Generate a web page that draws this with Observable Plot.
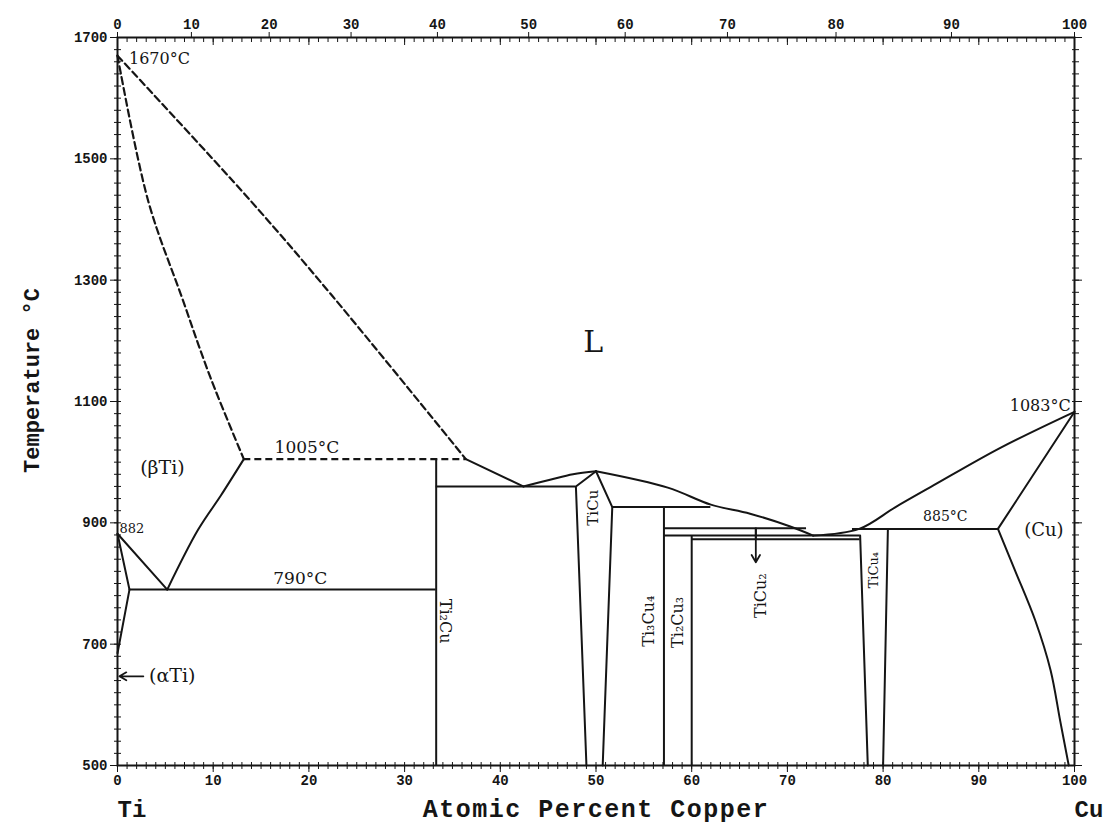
<!DOCTYPE html>
<html>
<head>
<meta charset="utf-8">
<script src="https://cdn.jsdelivr.net/npm/d3@7"></script>
<script src="https://cdn.jsdelivr.net/npm/@observablehq/plot@0.6"></script>
<style>
  html, body { margin: 0; padding: 0; background: #fff; }
  #chart svg { display: block; }
</style>
</head>
<body>
<div id="chart"></div>
<script>
// ---- Data (atomic % Cu, temperature °C) ----
const MASS_CU = 63.546, MASS_TI = 47.867;
const bottomTicks = [0, 10, 20, 30, 40, 50, 60, 70, 80, 90, 100];   // atomic %
const topTicksWt = [0, 10, 20, 30, 40, 50, 60, 70, 80, 90, 100];   // weight %
const tempTicks = [500, 700, 900, 1100, 1300, 1500, 1700];

// boundary curves
const liquidusTi   = [[0, 1670], [13.9, 1431], [22.5, 1273], [36.4, 1005]];
const solidusBeta  = [[0, 1670], [3.2, 1431], [6.7, 1273], [9.7, 1140], [13.2, 1005]];
const betaTransus  = [[13.2, 1005], [10.8, 945], [8.4, 888], [5.2, 790]];
const betaAlpha    = [[0, 882], [5.2, 790]];
const alphaBeta    = [[0, 882], [1.25, 790]];
const alphaSolvus  = [[1.25, 790], [0, 685]];
const liquidus1    = [[36.4, 1005], [42.4, 960]];
const liquidus2    = [[42.4, 960], [45.2, 971], [47.6, 980], [50, 985]];
const liquidus3    = [[50, 985], [57.5, 958], [62, 930], [66.1, 915], [70.3, 894], [72.7, 879]];
const liquidusCu   = [[72.7, 879], [77.5, 890], [81.3, 926], [85.3, 962], [92.3, 1024], [100, 1083]];
const solidusCu    = [[92, 890], [100, 1083]];
const solvusCu     = [[92, 890], [93.8, 821], [95.9, 739], [97.5, 657], [98.5, 574], [99.4, 500]];
const tiCuLeft     = [[50, 985], [47.9, 960], [49.0, 500]];
const tiCuRight    = [[50, 985], [51.7, 926], [50.7, 500]];
const tiCu4Left    = [[77.6, 879], [78.4, 500]];
const tiCu4Right   = [[80.5, 890], [80.0, 500]];

const smoothCurves = [betaTransus, liquidus2, liquidus3, liquidusCu, solvusCu];
const straightCurves = [betaAlpha, alphaBeta, alphaSolvus, liquidus1, solidusCu, tiCuLeft, tiCuRight, tiCu4Left, tiCu4Right];
const dashedCurves = [liquidusTi, solidusBeta];

// invariant reactions (horizontal)
const invariants = [
  {T: 1005, x1: 13.2, x2: 36.4, dash: true},
  {T: 790,  x1: 1.25, x2: 33.3, dash: false},
  {T: 960,  x1: 33.3, x2: 47.9, dash: false},
  {T: 926,  x1: 51.7, x2: 62.0, dash: false},
  {T: 891,  x1: 57.1, x2: 72.0, dash: false},
  {T: 879,  x1: 57.1, x2: 77.6, dash: false},
  {T: 873,  x1: 60.0, x2: 77.6, dash: false},
  {T: 890,  x1: 76.8, x2: 92.0, dash: false}
];

// line compounds (vertical)
const compounds = [
  {x: 33.3, top: 1005, bottom: 500},
  {x: 57.1, top: 926,  bottom: 500},
  {x: 60.0, top: 879,  bottom: 500},
  {x: 66.7, top: 891,  bottom: 873}
];

const arrows = [
  {x1: 2.7, y1: 647, x2: 0.2, y2: 647},
  {x1: 66.7, y1: 891, x2: 66.7, y2: 835}
];

const labels = [
  {text: "1670°C", x: 1.2, T: 1665, size: 16, anchor: "start", rotate: 0},
  {text: "1005°C", x: 19.8, T: 1024, size: 17, anchor: "middle", rotate: 0},
  {text: "790°C",  x: 19.1, T: 808,  size: 17, anchor: "middle", rotate: 0},
  {text: "(βTi)",  x: 4.7,  T: 991,  size: 19, anchor: "middle", rotate: 0},
  {text: "882",    x: 0.2,  T: 890,  size: 13, anchor: "start", rotate: 0},
  {text: "(αTi)",  x: 3.3,  T: 647,  size: 19, anchor: "start", rotate: 0},
  {text: "L",      x: 49.7, T: 1197, size: 30, anchor: "middle", rotate: 0},
  {text: "1083°C", x: 99.6, T: 1093, size: 16, anchor: "end", rotate: 0},
  {text: "885°C",  x: 86.5, T: 910,  size: 14, anchor: "middle", rotate: 0},
  {text: "(Cu)",   x: 96.8, T: 887,  size: 18, anchor: "middle", rotate: 0},
  {text: "Ti₂Cu",  x: 34.2, T: 738,  size: 16, anchor: "middle", rotate: 90},
  {text: "TiCu",   x: 49.7, T: 925,  size: 15, anchor: "middle", rotate: -90},
  {text: "Ti₃Cu₄", x: 55.5, T: 738,  size: 16, anchor: "middle", rotate: -90},
  {text: "Ti₂Cu₃", x: 58.6, T: 736,  size: 16, anchor: "middle", rotate: -90},
  {text: "TiCu₂",  x: 67.2, T: 780,  size: 16, anchor: "middle", rotate: -90},
  {text: "TiCu₄",  x: 79.0, T: 822,  size: 13, anchor: "middle", rotate: -90}
];

const endLabels = [{name: "Ti", x: 0}, {name: "Cu", x: 100}];

// ---- helpers ----
const wtToAt = w => 100 * (w / MASS_CU) / (w / MASS_CU + (100 - w) / MASS_TI);
const atToWt = a => 100 * (a * MASS_CU) / (a * MASS_CU + (100 - a) * MASS_TI);

const FONT = "DejaVu Serif";
const MONO = "Liberation Mono";
const INK = "#151515";

const smoothMarks = smoothCurves.map(c =>
  Plot.line(c, {x: d => d[0], y: d => d[1], stroke: INK, strokeWidth: 2, curve: "catmull-rom"}));
const straightMarks = straightCurves.map(c =>
  Plot.line(c, {x: d => d[0], y: d => d[1], stroke: INK, strokeWidth: 2, curve: "linear"}));
const dashMarks = dashedCurves.map(c =>
  Plot.line(c, {x: d => d[0], y: d => d[1], stroke: INK, strokeWidth: 2.2, strokeDasharray: "7,4", curve: "catmull-rom"}));

const labelMarks = labels.map(l =>
  Plot.text([l], {x: "x", y: "T", text: "text", fontSize: l.size, textAnchor: l.anchor,
    rotate: l.rotate, fill: INK, fontFamily: FONT}));

const tickText = {fontSize: 14, fontFamily: MONO, fontWeight: "bold"};

const chart = Plot.plot({
  width: 1116,
  height: 835,
  marginLeft: 117,
  marginRight: 42,
  marginTop: 37,
  marginBottom: 70,
  style: {fontFamily: FONT, background: "#fff", color: INK},
  x: {domain: [0, 100]},
  y: {domain: [500, 1700]},
  marks: [
    Plot.frame({stroke: INK, strokeWidth: 2}),
    // bottom axis
    Plot.axisX({anchor: "bottom", ticks: bottomTicks, tickSize: 7, tickPadding: 3, label: null, tickFormat: d => String(d), ...tickText}),
    Plot.axisX({anchor: "bottom", ticks: d3.range(0, 101, 1), tickSize: 4, tickFormat: () => "", label: null}),
    Plot.axisX({anchor: "bottom", ticks: d3.range(0, 101, 1), tickSize: -3, tickFormat: () => "", label: null}),
    // top axis: weight percent labels, atomic percent minor ticks
    Plot.axisX({anchor: "top", ticks: topTicksWt.map(wtToAt), tickSize: 6, tickPadding: 3, label: null,
      tickFormat: d => String(Math.round(atToWt(d))), ...tickText}),
    Plot.axisX({anchor: "top", ticks: d3.range(0, 101, 1), tickSize: -4, tickFormat: () => "", label: null}),
    Plot.axisX({anchor: "top", ticks: bottomTicks, tickSize: -7, tickFormat: () => "", label: null}),
    // left axis
    Plot.axisY({anchor: "left", ticks: tempTicks, tickSize: 7, tickPadding: 3, label: null, tickFormat: d => String(d), ...tickText}),
    Plot.axisY({anchor: "left", ticks: d3.range(500, 1701, 20), tickSize: -4, tickFormat: () => "", label: null}),
    Plot.axisY({anchor: "left", ticks: d3.range(500, 1701, 20), tickSize: 3, tickFormat: () => "", label: null}),
    // right axis
    Plot.axisY({anchor: "right", ticks: d3.range(500, 1701, 20), tickSize: 4, tickFormat: () => "", label: null}),
    Plot.axisY({anchor: "right", ticks: tempTicks, tickSize: 7, tickFormat: () => "", label: null}),
    Plot.axisY({anchor: "right", ticks: d3.range(500, 1701, 20), tickSize: -3, tickFormat: () => "", label: null}),
    // phase boundaries
    ...dashMarks,
    ...smoothMarks,
    ...straightMarks,
    Plot.ruleY(invariants.filter(d => !d.dash), {y: "T", x1: "x1", x2: "x2", stroke: INK, strokeWidth: 2}),
    Plot.ruleY(invariants.filter(d => d.dash), {y: "T", x1: "x1", x2: "x2", stroke: INK, strokeWidth: 2.2, strokeDasharray: "7,4"}),
    Plot.ruleX(compounds, {x: "x", y1: "top", y2: "bottom", stroke: INK, strokeWidth: 2}),
    Plot.arrow(arrows, {x1: "x1", y1: "y1", x2: "x2", y2: "y2", stroke: INK, strokeWidth: 1.8, headLength: 7}),
    ...labelMarks,
    // axis titles
    Plot.text(["Atomic Percent Copper"], {frameAnchor: "bottom", dy: 51, fontSize: 25, fill: INK, fontFamily: MONO, fontWeight: "bold", textAnchor: "middle"}),
    Plot.text(endLabels, {x: "x", text: "name", frameAnchor: "bottom", dy: 51, fontSize: 24, fill: INK, fontFamily: MONO, fontWeight: "bold", textAnchor: "start"}),
    Plot.text(["Temperature °C"], {frameAnchor: "left", dx: -86, dy: -21, rotate: -90, fontSize: 22, fill: INK, fontFamily: MONO, fontWeight: "bold", textAnchor: "middle"})
  ]
});
document.getElementById("chart").appendChild(chart);
d3.select(chart).selectAll("text").filter(function() { return this.textContent === "Atomic Percent Copper"; })
  .attr("letter-spacing", "1.5");
</script>
</body>
</html>
